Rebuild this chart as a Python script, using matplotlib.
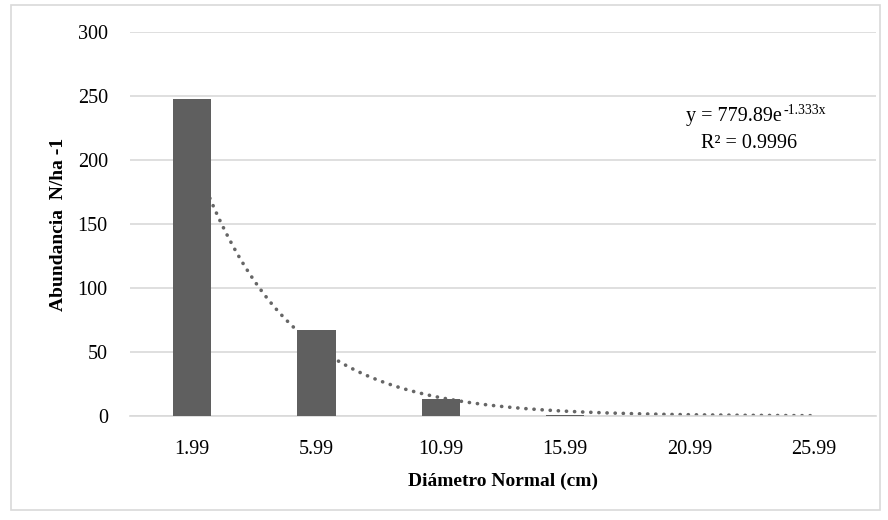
import numpy as np
import matplotlib
matplotlib.use('Agg')
import matplotlib.pyplot as plt
from matplotlib.patches import Rectangle

# Data
categories = ['1.99', '5.99', '10.99', '15.99', '20.99', '25.99']
abundance = [248, 67, 13, 1, 0, 0]
# Exponential trendline as printed on the chart
trend_a = 779.89
trend_b = -1.333

plt.rcParams['font.family'] = ['Liberation Serif', 'DejaVu Serif']

fig = plt.figure(figsize=(8.88, 5.2), dpi=100)
ax = fig.add_axes([130/888, 1 - 416/520, 746/888, 384/520])

pos = np.arange(len(categories))
ax.bar(pos, abundance, width=0.31, color='#5f5f5f', zorder=3)

# trendline in Excel's 1-based category index
xt = np.linspace(1, len(categories), 400)
yt = trend_a * np.exp(trend_b * xt)
ax.plot(xt - 1, yt, linestyle=(0, (0.05, 2.2)), color='#666666', linewidth=2.6,
        zorder=2, dash_capstyle='round')

ax.set_xlim(-0.5, len(categories) - 0.5)
ax.set_ylim(0, 300)
ax.set_yticks(np.arange(0, 301, 50))
ax.set_xticks(pos)
ax.set_xticklabels(categories)
ax.yaxis.grid(True, color='#d9d9d9', linewidth=1.2, zorder=0)
ax.set_axisbelow(True)
for s in ['top', 'right', 'left']:
    ax.spines[s].set_visible(False)
ax.spines['bottom'].set_color('#d9d9d9')
ax.spines['bottom'].set_linewidth(1.2)
ax.tick_params(axis='both', length=0, labelsize=14.5, colors='#000000')
ax.tick_params(axis='x', pad=17)
ax.tick_params(axis='y', pad=16)

ax.set_xlabel('Diámetro Normal (cm)', fontsize=14, fontweight='bold', labelpad=10)
ax.set_ylabel('Abundancia  N/ha -1', fontsize=14, fontweight='bold', labelpad=8)

fig.text(782/888, 1 - 117/520, 'y = 779.89e', fontsize=14.5,
         ha='right', va='center')
fig.text(783/888, 1 - 111/520, '-1.333x', fontsize=10,
         ha='left', va='center')
fig.text(749/888, 1 - 143/520, 'R² = 0.9996', fontsize=14.5,
         ha='center', va='center')

fig.patches.append(Rectangle((11/888, 1 - 510/520), 869/888, 505/520,
                             transform=fig.transFigure, fill=False,
                             edgecolor='#d9d9d9', linewidth=1.2))

fig.savefig('out.png', dpi=100)
